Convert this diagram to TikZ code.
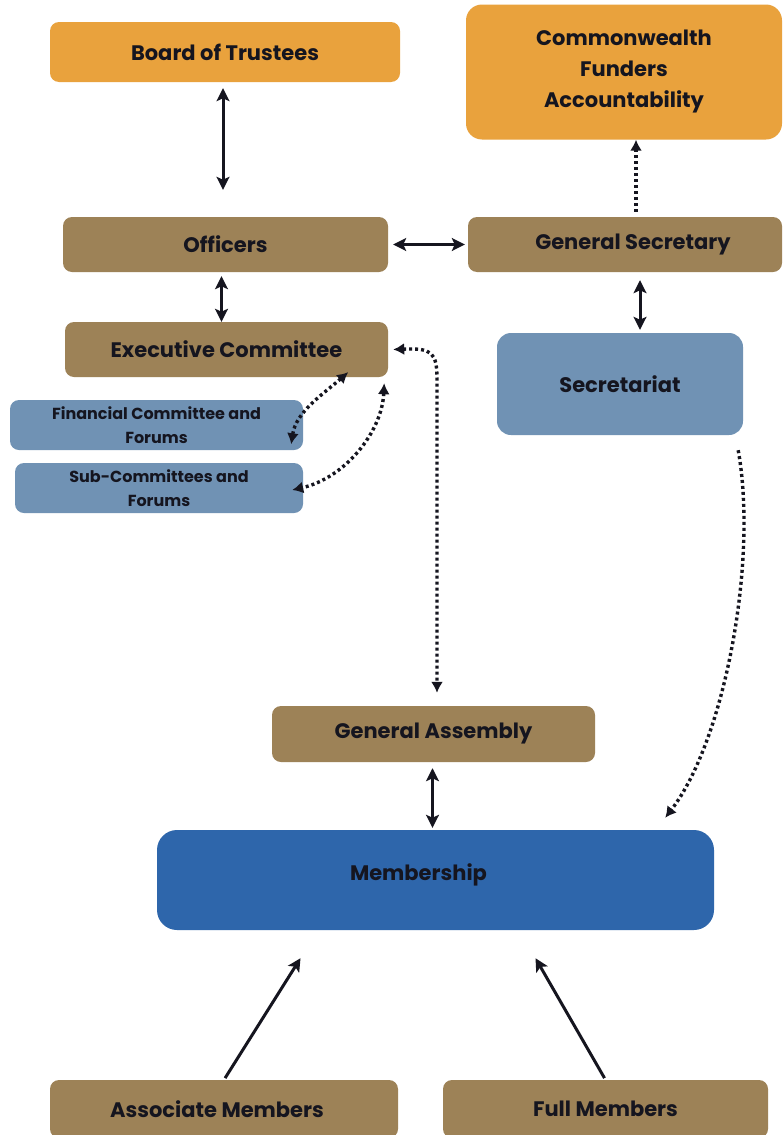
\documentclass[tikz,border=0pt]{standalone}
\usepackage{fontspec}
\setmainfont{Poppins}
\usetikzlibrary{arrows.meta}

\definecolor{ink}{HTML}{15151F}
\definecolor{gold}{HTML}{E9A23D}
\definecolor{khaki}{HTML}{9D8257}
\definecolor{slate}{HTML}{7092B4}
\definecolor{royal}{HTML}{2E66AB}

\tikzset{
  box/.style={rounded corners=9pt, inner sep=0pt, align=center, text=ink,
    font=\bfseries\fontsize{21}{31}\selectfont},
  goldbox/.style={box, fill=gold},
  khakibox/.style={box, fill=khaki},
  slatebox/.style={box, fill=slate},
  smallslate/.style={slatebox, font=\bfseries\fontsize{16}{24}\selectfont},
  solidlink/.style={draw=ink, line width=3pt,
    {Stealth[length=13pt,width=13pt,inset=3pt]}-{Stealth[length=13pt,width=13pt,inset=3pt]}},
  solidone/.style={draw=ink, line width=3pt, -{Stealth[length=13pt,width=13pt,inset=3pt]}},
  dotlink/.style={draw=ink, line width=3.4pt, dash pattern=on 3pt off 3pt,
    {Latex[length=11pt,width=12pt]}-{Latex[length=11pt,width=12pt]}},
  dotone/.style={draw=ink, line width=3.4pt, dash pattern=on 3pt off 3pt,
    -{Latex[length=11pt,width=12pt]}},
}

\begin{document}
\begin{tikzpicture}[x=1pt,y=-1pt]
\useasboundingbox[fill=white] (0,0) rectangle (782,1135);

% governance boxes
\node[goldbox, minimum width=350pt, minimum height=60pt] (board) at (225,52) {Board of Trustees};
\node[goldbox, rounded corners=16pt, minimum width=316pt, minimum height=135pt] (funders) at (624,72)
  {Commonwealth\\Funders\\Accountability};
\node[khakibox, minimum width=325pt, minimum height=55pt] (officers) at (225.5,244.5) {Officers};
\node[khakibox, minimum width=314pt, minimum height=55pt] (gensec) at (625,244.5) {\hspace*{16pt}General Secretary};
\node[khakibox, minimum width=323pt, minimum height=55pt] (exec) at (226.5,349.5) {Executive Committee};
\node[slatebox, rounded corners=14pt, minimum width=246pt, minimum height=102pt] (secr) at (620,384) {Secretariat};
\node[smallslate, minimum width=293pt, minimum height=50pt] (fin) at (156.5,425) {Financial Committee and\\Forums};
\node[smallslate, minimum width=288pt, minimum height=50pt] (subc) at (159,488) {Sub-Committees and\\Forums};

% assembly and membership
\node[khakibox, minimum width=323pt, minimum height=56pt] (assembly) at (433.5,734) {General Assembly};
\node[box, fill=royal, rounded corners=20pt, minimum width=557pt, minimum height=100pt] (members) at (435.5,880)
  {\raisebox{15pt}{Membership}\hspace*{34pt}};
\node[khakibox, minimum width=348pt, minimum height=58pt] (assoc) at (224,1109) {Associate Members\hspace*{14pt}};
\node[khakibox, minimum width=325pt, minimum height=58pt] (full) at (605.5,1109) {Full Members};

% solid two-way links
\draw[solidlink, shorten <=6pt, shorten >=27pt] ([xshift=-2pt]board.south) -- ([xshift=-2pt]board.south |- officers.north);
\draw[solidlink, shorten <=5pt, shorten >=3pt] (officers.east) -- (gensec.west);
\draw[solidlink, shorten <=4pt, shorten >=0pt] ([xshift=-4pt]officers.south) -- ([xshift=-5pt]exec.north);
\draw[solidlink, shorten <=8pt, shorten >=3pt] ([xshift=15pt]gensec.south) -- ([xshift=20pt]secr.north);
\draw[solidlink, shorten <=6pt, shorten >=2pt] ([xshift=-1pt]assembly.south) -- ([xshift=-1pt]assembly.south |- members.north);

% reporting line to the funders
\draw[dotone, shorten <=5pt, shorten >=0pt] ([xshift=11pt]gensec.north) -- ([xshift=12pt]funders.south);

% executive committee to its committees and to the assembly
\draw[dotlink] ([xshift=5pt]exec.east) .. controls (432,348) and (437,352) .. (437,380)
  -- ([yshift=13pt]assembly.north -| 437,0);
\draw[dotlink] ([xshift=-40pt,yshift=5pt]exec.south east)
  .. controls (322,395) and (296,412) .. ([xshift=-12pt,yshift=6pt]fin.south east);
\draw[dotlink] ([xshift=-4pt,yshift=-6pt]exec.south east)
  .. controls (382,432) and (345,478) .. ([xshift=-11pt,yshift=-2pt]subc.east);

% secretariat to membership
\draw[dotone] ([xshift=-5pt,yshift=-15pt]secr.south east)
  .. controls (758,560) and (725,740) .. ([xshift=-49pt,yshift=12pt]members.north east);

% member categories
\draw[solidone, shorten <=2pt] (assoc.north) -- ([xshift=-135pt,yshift=-28pt]members.south);
\draw[solidone, shorten <=2pt] (full.north) -- ([xshift=100pt,yshift=-28pt]members.south);
\end{tikzpicture}
\end{document}
